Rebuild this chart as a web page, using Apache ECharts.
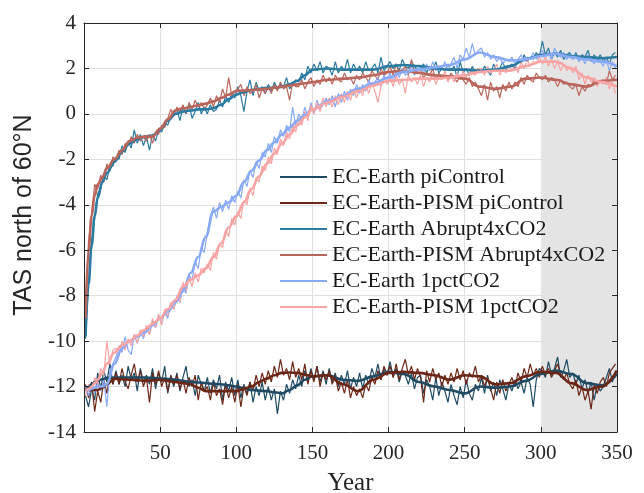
<!DOCTYPE html>
<html>
<head>
<meta charset="utf-8">
<script src="https://cdn.jsdelivr.net/npm/echarts@6.0.0/dist/echarts.min.js"></script>
<style>
  html, body { margin: 0; padding: 0; background: #fff; }
  #main { width: 644px; height: 493px; }
</style>
</head>
<body>
<div id="main"></div>
<script>
// yearly values are sampled every second year, smoothed curves on a coarser grid
var noisyYears = [];
for (var y = 1; y <= 349; y += 2) noisyYears.push(y);

var smoothYears = [1, 3, 5, 7, 9, 12, 15,
    20, 25, 30, 35, 40, 45, 50, 55, 60, 65, 70, 75, 80, 85, 90, 95, 100,
    105, 110, 115, 120, 125, 130, 135, 140, 145, 150,
    160, 170, 180, 190, 200, 210, 220, 230, 240, 250, 260, 270, 280, 290, 300, 310, 320, 330, 340, 350];

var seriesNames = [
    'EC-Earth piControl',
    'EC-Earth-PISM piControl',
    'EC-Earth Abrupt4xCO2',
    'EC-Earth-PISM Abrupt4xCO2',
    'EC-Earth 1pctCO2',
    'EC-Earth-PISM 1pctCO2'
];

var piControlEc = [
    -12.4, -12.9, -12.1, -12.6, -11.4, -12.1, -11.3, -11.8, -11.0, -11.9,
    -11.3, -11.9, -11.5, -12.0, -11.1, -11.7, -11.4, -12.2, -11.2, -11.8,
    -11.5, -11.9, -11.2, -12.1, -11.4, -11.8, -11.1, -12.3, -11.6, -12.0,
    -11.4, -12.2, -11.6, -11.1, -12.0, -11.7, -12.4, -11.5, -11.9, -12.2,
    -11.6, -12.3, -11.7, -12.1, -11.5, -12.6, -11.8, -12.2, -11.6, -12.4,
    -11.7, -12.5, -11.9, -12.3, -11.8, -12.7, -12.0, -12.4, -11.8, -12.6,
    -12.0, -12.6, -12.1, -13.2, -12.2, -12.6, -11.9, -12.3, -11.7, -12.1,
    -11.5, -12.0, -11.3, -11.8, -11.2, -11.7, -11.1, -11.8, -11.3, -11.9,
    -11.2, -11.8, -11.4, -12.0, -11.5, -11.9, -11.3, -12.1, -11.6, -12.0,
    -11.4, -12.1, -11.5, -11.9, -11.2, -11.6, -11.0, -11.7, -11.2, -11.5,
    -10.9, -11.6, -11.2, -11.8, -11.3, -11.5, -11.9, -11.4, -12.1, -11.6,
    -11.5, -12.3, -11.7, -12.0, -12.6, -11.6, -12.4, -11.8, -12.2, -12.7,
    -11.9, -12.4, -12.8, -12.0, -12.5, -11.7, -12.3, -12.6, -11.9, -12.2,
    -11.6, -12.3, -11.5, -12.2, -11.8, -12.4, -11.7, -12.1, -12.6, -11.9,
    -12.2, -11.7, -12.1, -11.8, -12.3, -11.6, -11.9, -12.9, -11.7, -11.2,
    -11.3, -11.6, -10.9, -11.5, -11.2, -10.7, -11.6, -11.3, -10.8, -11.6,
    -11.4, -11.9, -11.5, -12.1, -11.7, -12.3, -11.8, -12.6, -11.9, -12.2,
    -12.0, -11.6, -11.2, -11.8, -11.3
];
var piControlPism = [
    -11.9, -12.5, -11.8, -13.1, -12.2, -12.7, -11.7, -12.3, -11.5, -11.9,
    -11.4, -11.9, -11.2, -11.8, -12.1, -11.5, -11.0, -11.8, -11.3, -12.0,
    -11.6, -12.7, -11.4, -11.9, -11.3, -12.0, -11.6, -12.2, -11.5, -11.9,
    -11.5, -12.1, -11.7, -12.3, -11.6, -12.0, -11.5, -12.6, -11.8, -12.2,
    -12.0, -12.6, -11.8, -12.4, -12.1, -12.8, -11.9, -12.5, -12.0, -12.7,
    -11.9, -12.9, -12.0, -12.4, -11.8, -12.2, -11.5, -12.0, -11.4, -11.9,
    -11.3, -11.8, -11.1, -11.6, -10.8, -11.5, -11.2, -11.7, -10.9, -11.6,
    -11.2, -11.7, -11.0, -11.9, -11.3, -11.8, -11.1, -12.0, -11.4, -11.7,
    -11.3, -11.9, -11.5, -12.2, -11.8, -12.3, -11.7, -12.5, -12.0, -12.4,
    -12.1, -12.5, -11.9, -12.2, -11.6, -11.9, -11.3, -11.7, -11.1, -11.5,
    -11.1, -11.6, -11.0, -11.7, -11.2, -10.8, -11.5, -11.1, -11.7, -11.2,
    -11.6, -12.7, -11.3, -11.8, -11.2, -11.7, -11.4, -12.0, -11.5, -11.9,
    -11.4, -11.8, -11.2, -11.7, -11.3, -11.9, -11.4, -11.6, -11.1, -11.8,
    -11.5, -12.0, -11.6, -12.1, -12.6, -11.8, -12.3, -11.7, -12.2, -11.9,
    -11.6, -12.0, -11.4, -11.8, -11.2, -11.6, -11.0, -11.5, -11.2, -11.6,
    -11.1, -11.5, -11.2, -11.6, -11.3, -11.0, -11.5, -11.7, -11.4, -11.9,
    -12.1, -11.7, -12.4, -12.0, -12.6, -12.2, -13.0, -11.9, -12.3, -11.8,
    -11.6, -12.0, -11.4, -11.2, -11.0
];
var abruptEc = [
    -9.9, -7.4, -5.6, -4.6, -3.5, -3.3, -2.7, -2.9, -2.3, -2.3,
    -1.9, -2.0, -1.4, -1.7, -1.2, -1.5, -0.7, -1.3, -0.9, -1.4,
    -1.0, -1.6, -0.9, -1.2, -0.7, -0.8, -0.4, -0.5, -0.1, 0.1,
    0.2, -0.3, 0.3, 0.0, 0.4, -0.2, 0.1, 0.5, 0.0, 0.3,
    0.0, 0.4, 0.1, 0.2, 0.6, 0.3, 0.8, 0.5, 0.9, 0.7,
    1.2, 0.8, 0.1, 1.0, 1.5, 0.8, 1.4, 1.0, 1.2, 0.9,
    1.3, 1.0, 1.4, 1.1, 1.3, 1.2, 1.6, 1.1, 1.3, 1.5,
    1.4, 1.8, 1.5, 2.1, 1.8, 2.2, 1.9, 2.3, 1.8, 2.1,
    2.0, 1.7, 2.3, 1.8, 2.1, 1.9, 2.4, 1.8, 2.2, 1.9,
    2.1, 1.8, 2.3, 1.9, 2.0, 2.2, 1.8, 2.5, 1.9, 2.1,
    2.3, 2.0, 2.2, 1.9, 2.4, 2.1, 2.0, 2.3, 2.1, 1.9,
    2.0, 2.2, 1.8, 2.1, 1.9, 2.3, 1.8, 2.0, 1.9, 2.2,
    1.9, 2.1, 1.6, 2.3, 1.8, 2.0, 1.7, 2.1, 1.8, 2.0,
    1.8, 2.1, 1.9, 1.7, 2.2, 1.9, 2.0, 2.3, 1.9, 2.1,
    2.2, 2.0, 2.4, 2.2, 2.6, 2.3, 2.5, 2.4, 2.7, 2.5,
    3.2, 2.6, 2.9, 2.4, 2.7, 2.5, 2.8, 2.4, 2.6, 2.7,
    2.4, 2.7, 2.3, 2.6, 2.5, 2.8, 2.3, 2.6, 2.4, 2.6,
    2.3, 2.5, 2.2, 2.6, 2.7
];
var abruptPism = [
    -9.0, -5.6, -4.4, -3.1, -3.3, -2.7, -3.0, -2.2, -2.5, -1.9,
    -2.0, -1.6, -1.8, -1.3, -1.4, -1.0, -1.3, -0.9, -1.2, -1.0,
    -1.2, -0.9, -1.3, -0.8, -0.9, -0.5, -0.6, -0.2, 0.2, -0.1,
    0.3, 0.1, 0.4, 0.0, 0.5, 0.2, 0.6, 0.3, 0.5, 0.2,
    0.4, 0.7, 0.3, 0.8, 0.5, 1.1, 0.7, 1.6, 0.8, 1.0,
    1.1, 1.3, 0.8, 1.2, 0.9, 1.0, 1.3, 0.7, 1.1, 0.9,
    1.2, 0.9, 1.3, 1.0, 1.4, 1.1, 1.2, 0.6, 1.4, 1.2,
    1.2, 1.5, 1.1, 1.4, 1.6, 1.2, 1.5, 1.3, 1.7, 1.4,
    1.6, 1.3, 1.7, 1.5, 1.4, 1.8, 1.5, 1.6, 1.3, 1.7,
    1.5, 1.8, 1.6, 1.4, 1.9, 1.7, 1.5, 2.0, 1.7, 1.8,
    2.1, 1.7, 2.2, 1.8, 1.9, 2.1, 1.7, 2.4, 1.8, 1.9,
    1.9, 1.6, 1.8, 1.7, 2.0, 1.5, 1.8, 1.6, 1.7, 1.5,
    1.8, 1.6, 1.4, 1.7, 1.5, 1.3, 1.6, 1.2, 1.4, 1.1,
    0.8, 1.3, 0.6, 1.4, 1.0, 1.2, 0.7, 1.3, 1.0, 1.4,
    1.1, 1.4, 1.2, 1.6, 1.3, 1.7, 1.5, 1.4, 1.8, 1.6,
    1.5, 1.7, 1.4, 1.6, 1.5, 1.2, 1.5, 1.3, 1.4, 1.2,
    1.1, 1.3, 0.8, 1.2, 1.0, 1.3, 1.2, 1.5, 1.3, 1.4,
    1.5, 1.3, 1.9, 1.5, 1.7
];
var pctEc = [
    -12.0, -12.4, -11.9, -12.3, -11.8, -12.2, -11.7, -12.9, -11.3, -11.0,
    -10.7, -10.2, -10.5, -9.8, -10.4, -10.6, -9.7, -10.1, -9.6, -9.9,
    -9.4, -9.7, -9.1, -9.4, -8.9, -9.2, -8.7, -9.0, -8.3, -8.6,
    -8.0, -8.3, -7.6, -7.9, -7.1, -7.3, -6.5, -6.8, -5.9, -6.1,
    -5.2, -4.5, -4.1, -4.6, -3.9, -4.3, -3.8, -4.2, -3.6, -3.9,
    -3.4, -3.7, -2.9, -3.2, -2.5, -2.8, -2.1, -2.4, -1.7, -1.9,
    -1.3, -1.7, -1.0, -1.3, -0.7, -1.0, -0.5, -0.8, 0.3, -0.5,
    0.0, -0.3, 0.3, -0.1, 0.5, 0.0, 0.6, 0.2, 0.4, 0.7,
    0.4, 0.8, 0.3, 0.9, 0.5, 1.0, 0.6, 1.1, 0.8, 1.3,
    0.9, 1.3, 1.0, 1.5, 1.2, 1.4, 1.6, 1.2, 1.7, 1.4,
    1.8, 1.4, 1.9, 1.6, 2.0, 1.7, 1.8, 2.1, 1.7, 1.9,
    2.0, 1.8, 2.2, 1.9, 2.3, 1.9, 2.1, 2.0, 2.3, 1.9,
    2.2, 2.5, 2.0, 2.6, 2.4, 2.9, 2.5, 3.1, 2.6, 2.8,
    2.9, 2.5, 2.7, 2.4, 2.6, 2.3, 2.5, 2.2, 2.4, 2.3,
    2.5, 2.2, 2.4, 2.6, 2.3, 2.5, 2.4, 2.7, 2.4, 2.6,
    2.8, 2.5, 2.7, 2.4, 2.9, 2.6, 2.5, 2.7, 2.4, 2.6,
    2.4, 2.6, 2.3, 2.5, 2.2, 2.6, 2.4, 2.2, 2.5, 2.3,
    2.1, 2.4, 1.9, 2.3, 2.0
];
var pctPism = [
    -12.4, -11.9, -12.2, -11.6, -11.9, -11.2, -11.5, -10.0, -11.0, -10.4,
    -10.3, -10.6, -10.0, -10.4, -9.9, -10.2, -9.7, -10.1, -9.5, -9.8,
    -9.3, -9.7, -9.0, -9.4, -8.8, -9.3, -8.6, -8.9, -8.3, -8.6,
    -8.0, -8.3, -7.4, -7.8, -7.2, -7.6, -7.0, -7.4, -6.8, -7.0,
    -6.6, -6.9, -6.1, -6.4, -5.7, -5.9, -5.1, -5.4, -4.6, -4.9,
    -4.3, -4.6, -3.8, -4.0, -3.3, -3.6, -2.8, -3.0, -2.3, -2.5,
    -1.9, -2.2, -1.5, -1.8, -1.1, -1.4, -0.8, -1.1, -0.5, -0.8,
    -0.2, -0.5, 0.1, -0.3, 0.4, 0.0, 0.5, 0.1, 0.7, 0.3,
    0.7, 0.3, 0.8, 0.4, 0.9, 0.5, 1.0, 0.6, 1.1, 0.7,
    1.2, 0.8, 1.3, 0.9, 1.4, 1.0, 0.5, 1.2, 1.6, 1.3,
    1.6, 1.2, 1.7, 1.3, 1.5, 0.9, 1.7, 1.4, 1.6, 1.3,
    1.7, 1.2, 1.6, 1.4, 1.8, 1.3, 1.6, 1.5, 1.9, 1.4,
    1.7, 1.4, 1.8, 1.5, 1.9, 1.6, 1.8, 1.9, 1.7, 2.0,
    2.0, 1.7, 2.1, 1.8, 1.9, 2.2, 1.7, 2.0, 1.8, 2.1,
    1.9, 2.2, 1.8, 2.3, 2.0, 2.4, 2.1, 2.3, 2.2, 2.5,
    2.2, 2.5, 2.1, 2.4, 2.0, 2.3, 1.9, 2.2, 1.9, 2.1,
    1.8, 2.1, 1.5, 1.8, 1.3, 1.7, 1.4, 1.6, 1.2, 1.5,
    1.3, 1.6, 1.1, 1.4, 0.9
];

// smoothed curves, same order as smoothYears
var piControlEcSmooth = [
    -12.2, -12.05, -11.9, -11.8, -11.72, -11.68, -11.62,
    -11.6, -11.6, -11.6, -11.6, -11.6, -11.62, -11.65, -11.67, -11.7, -11.75, -11.8, -11.82, -11.85, -11.88, -11.9, -11.95, -12.0,
    -12.08, -12.15, -12.18, -12.2, -12.25, -12.3, -12.15, -11.95, -11.7, -11.55,
    -11.5, -11.7, -11.75, -11.55, -11.35, -11.45, -11.8, -12.0, -12.15, -12.3, -12.0, -12.05, -12.0, -11.75, -11.45, -11.3, -11.45, -11.85, -11.95, -11.45
];
var piControlPismSmooth = [
    -12.15, -12.15, -12.15, -12.15, -12.15, -12.05, -11.9,
    -11.65, -11.68, -11.7, -11.72, -11.75, -11.73, -11.7, -11.75, -11.8, -11.85, -11.9, -12.05, -12.2, -12.2, -12.2, -12.2, -12.2,
    -12.1, -12.0, -11.8, -11.65, -11.5, -11.4, -11.38, -11.4, -11.48, -11.55,
    -11.5, -11.9, -12.2, -11.7, -11.4, -11.35, -11.4, -11.5, -11.7, -11.5, -11.55, -11.9, -11.85, -11.55, -11.35, -11.4, -11.85, -12.15, -12.0, -11.3
];
var abruptEcSmooth = [
    -9.8, -7.5, -5.8, -4.5, -3.7, -3.0, -2.6,
    -2.1, -1.65, -1.3, -1.1, -1.0, -0.95, -0.7, -0.3, 0.0, 0.1, 0.15, 0.2, 0.2, 0.25, 0.4, 0.65, 0.85,
    0.95, 1.05, 1.1, 1.15, 1.15, 1.2, 1.3, 1.45, 1.7, 1.95,
    2.0, 1.95, 1.95, 1.95, 2.1, 2.15, 2.1, 2.0, 1.95, 1.95, 1.9, 1.95, 2.1, 2.4, 2.6, 2.65, 2.55, 2.5, 2.45, 2.5
];
var abruptPismSmooth = [
    -9.0, -6.0, -4.5, -3.6, -3.1, -2.8, -2.4,
    -2.0, -1.6, -1.2, -1.05, -1.0, -1.0, -0.65, -0.25, 0.15, 0.25, 0.3, 0.38, 0.45, 0.55, 0.7, 0.85, 1.0,
    1.03, 1.05, 1.08, 1.1, 1.15, 1.2, 1.25, 1.3, 1.35, 1.4,
    1.5, 1.55, 1.6, 1.7, 1.85, 1.9, 1.8, 1.7, 1.65, 1.55, 1.2, 1.1, 1.2, 1.55, 1.6, 1.5, 1.3, 1.2, 1.45, 1.5
];
var pctEcSmooth = [
    -12.2, -12.15, -12.1, -12.05, -12.0, -12.0, -11.9,
    -11.0, -10.3, -10.0, -9.8, -9.6, -9.3, -9.0, -8.7, -8.3, -7.8, -7.0, -6.3, -5.4, -4.3, -4.1, -3.9, -3.6,
    -3.0, -2.5, -2.05, -1.6, -1.25, -0.9, -0.6, -0.3, -0.05, 0.2,
    0.55, 0.8, 1.1, 1.35, 1.6, 1.85, 1.95, 2.05, 2.15, 2.4, 2.7, 2.5, 2.35, 2.4, 2.55, 2.65, 2.5, 2.4, 2.3, 2.1
];
var pctPismSmooth = [
    -12.2, -12.1, -12.0, -11.85, -11.7, -11.4, -11.0,
    -10.5, -10.2, -10.0, -9.75, -9.5, -9.25, -9.0, -8.6, -8.2, -7.6, -7.3, -7.1, -6.8, -6.3, -5.7, -5.0, -4.5,
    -3.9, -3.3, -2.75, -2.2, -1.75, -1.3, -0.9, -0.5, -0.15, 0.2,
    0.5, 0.75, 1.0, 1.25, 1.45, 1.5, 1.55, 1.55, 1.6, 1.7, 1.85, 1.9, 1.9, 2.1, 2.3, 2.3, 2.0, 1.6, 1.4, 1.2
];

var shadeYears = [300, 350];
var yTicks = [-14, -12, -10, -8, -6, -4, -2, 0, 2, 4];

var colors = ['#1e4a63', '#6c2615', '#2b7ba1', '#b9655b', '#88aaf6', '#f8a4a4'];
var noisyData = [piControlEc, piControlPism, abruptEc, abruptPism, pctEc, pctPism];
var smoothData = [piControlEcSmooth, piControlPismSmooth, abruptEcSmooth, abruptPismSmooth, pctEcSmooth, pctPismSmooth];

function pairs(xs, ys) {
    return xs.map(function (x, i) { return [x, ys[i]]; });
}

function initChart() {
    var chart = echarts.init(document.getElementById('main'));
    var serif = 'Liberation Serif';
    var ink = '#262626';

    var series = [{
        type: 'line',
        data: [],
        silent: true,
        markArea: {
            silent: true,
            itemStyle: { color: '#e4e4e4' },
            data: [[{ xAxis: shadeYears[0] }, { xAxis: shadeYears[1] }]]
        }
    }];

    seriesNames.forEach(function (name, i) {
        series.push({
            name: name,
            type: 'line',
            data: pairs(noisyYears, noisyData[i]),
            showSymbol: false,
            symbol: 'none',
            lineStyle: { color: colors[i], width: 1.2 },
            itemStyle: { color: colors[i] },
            z: 2
        });
        series.push({
            name: name,
            type: 'line',
            data: pairs(smoothYears, smoothData[i]),
            showSymbol: false,
            symbol: 'none',
            smooth: 0.4,
            smoothMonotone: 'x',
            lineStyle: { color: colors[i], width: 2.6 },
            itemStyle: { color: colors[i] },
            z: 3
        });
    });

    var xBase = { type: 'value', min: 0, max: 350, interval: 50 };
    var yBase = { type: 'value', min: yTicks[0], max: yTicks[yTicks.length - 1], interval: 2 };

    var option = {
        animation: false,
        grid: { left: 84, right: 27, top: 23, bottom: 61, outerBoundsMode: 'none', containLabel: false },
        legend: {
            data: seriesNames,
            orient: 'vertical',
            left: 275,
            top: 161,
            icon: 'rect',
            itemWidth: 47,
            itemHeight: 2,
            itemGap: 4,
            selectedMode: false,
            textStyle: { fontFamily: serif, fontSize: 22, color: '#1a1a1a' }
        },
        xAxis: [
            Object.assign({}, xBase, {
                position: 'bottom',
                z: 10,
                axisLine: { show: true, onZero: false, lineStyle: { color: ink, width: 1 } },
                axisTick: { show: true, inside: true, length: 5, lineStyle: { color: ink } },
                axisLabel: {
                    margin: 11, fontFamily: serif, fontSize: 21, color: ink,
                    formatter: function (v) { return v === 0 ? '' : String(v); }
                },
                splitLine: { show: false },
                name: 'Year',
                nameLocation: 'middle',
                nameGap: 39,
                nameTextStyle: { fontFamily: serif, fontSize: 25, color: ink }
            }),
            Object.assign({}, xBase, {
                position: 'top',
                z: 10,
                axisLine: { show: true, onZero: false, lineStyle: { color: ink, width: 1 } },
                axisTick: { show: true, inside: true, length: 5, lineStyle: { color: ink } },
                axisLabel: { show: false },
                splitLine: { show: false }
            }),
            Object.assign({}, xBase, {
                z: 0,
                axisLine: { show: false },
                axisTick: { show: false },
                axisLabel: { show: false },
                splitLine: { show: true, lineStyle: { color: '#dfdfdf', width: 1 } }
            })
        ],
        yAxis: [
            Object.assign({}, yBase, {
                position: 'left',
                z: 10,
                axisLine: { show: true, onZero: false, lineStyle: { color: ink, width: 1 } },
                axisTick: { show: true, inside: true, length: 5, lineStyle: { color: ink } },
                axisLabel: { margin: 8, fontFamily: serif, fontSize: 21, color: ink },
                splitLine: { show: false },
                name: 'TAS north of 60°N',
                nameLocation: 'middle',
                nameGap: 46,
                nameTextStyle: { fontFamily: 'Liberation Sans', fontSize: 25, color: ink, padding: [0, 0, 0, 25] }
            }),
            Object.assign({}, yBase, {
                position: 'right',
                z: 10,
                axisLine: { show: true, onZero: false, lineStyle: { color: ink, width: 1 } },
                axisTick: { show: true, inside: true, length: 5, lineStyle: { color: ink } },
                axisLabel: { show: false },
                splitLine: { show: false }
            }),
            Object.assign({}, yBase, {
                z: 0,
                axisLine: { show: false },
                axisTick: { show: false },
                axisLabel: { show: false },
                splitLine: { show: true, lineStyle: { color: '#dfdfdf', width: 1 } }
            })
        ],
        series: series
    };

    option && chart.setOption(option);
}

initChart();
</script>
</body>
</html>
